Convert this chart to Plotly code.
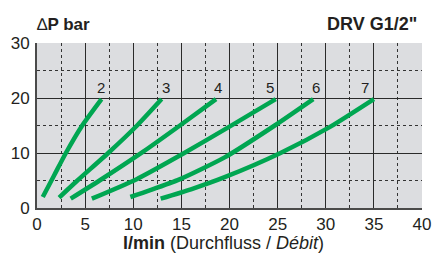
import plotly.graph_objects as go

# ---- data ----
curve_names = ["2", "3", "4", "5", "6", "7"]
flow_2 = [0.6, 1.8, 3.0, 4.7, 6.7]
dp_2 = [2.0, 6.0, 10.0, 15.0, 19.8]
flow_3 = [2.3, 4.2, 7.4, 10.4, 12.95]
dp_3 = [1.9, 5.0, 10.0, 15.0, 19.8]
flow_4 = [3.5, 6.5, 11.0, 14.85, 18.6]
dp_4 = [1.7, 5.0, 10.2, 15.0, 19.8]
flow_5 = [5.7, 10.3, 15.3, 20.0, 24.8]
dp_5 = [1.7, 5.2, 10.0, 14.8, 19.8]
flow_6 = [9.7, 11.7, 14.8, 19.5, 24.7, 28.7]
dp_6 = [2.0, 3.2, 5.2, 9.2, 15.0, 19.8]
flow_7 = [12.85, 16.0, 19.5, 25.3, 30.4, 35.0]
dp_7 = [1.7, 3.4, 5.6, 10.0, 14.7, 19.8]

x_ticks = [0, 5, 10, 15, 20, 25, 30, 35, 40]
y_ticks = [0, 10, 20, 30]

series = [
    (flow_2, dp_2), (flow_3, dp_3), (flow_4, dp_4),
    (flow_5, dp_5), (flow_6, dp_6), (flow_7, dp_7),
]

# ---- styling ----
GREEN = "#00a651"
FONT = "Liberation Sans, Arial, sans-serif"
TXT = "#231f20"
label_xshift = [0, 4, 2, -6, 3, -9]

fig = go.Figure()
annotations = []
for name, (xs, ys), dx in zip(curve_names, series, label_xshift):
    fig.add_trace(go.Scatter(
        x=xs, y=ys, mode="lines", name=name,
        line=dict(color=GREEN, width=4.5, shape="spline", smoothing=0.6),
        showlegend=False, hoverinfo="skip",
    ))
    annotations.append(dict(
        x=xs[-1], y=ys[-1], xref="x", yref="y", text=name, showarrow=False,
        xanchor="center", yanchor="bottom", xshift=dx, yshift=1,
        font=dict(family=FONT, size=15, color=TXT),
    ))

annotations += [
    dict(x=0, y=1, xref="paper", yref="paper", text="∆<b>P bar</b>",
         showarrow=False, xanchor="left", yanchor="middle", xshift=-2, yshift=19,
         font=dict(family=FONT, size=17, color=TXT)),
    dict(x=1, y=1, xref="paper", yref="paper", text="<b>DRV G1/2\"</b>",
         showarrow=False, xanchor="right", yanchor="middle", xshift=-3, yshift=19,
         font=dict(family=FONT, size=18, color=TXT)),
    dict(x=0.5, y=0, xref="paper", yref="paper",
         text="<b>l/min</b> (Durchfluss / <i>Débit</i>)",
         showarrow=False, xanchor="center", yanchor="middle", xshift=-6, yshift=-35,
         font=dict(family=FONT, size=18, color=TXT)),
]

axis_common = dict(
    showgrid=True, gridcolor="#2a2a2a", gridwidth=1.2,
    showline=True, linecolor="#4a4a4a", linewidth=2,
    ticks="", zeroline=False, automargin=False,
    tickfont=dict(family=FONT, size=17, color=TXT),
)

fig.update_layout(
    width=433, height=257,
    margin=dict(l=37, r=11, t=43, b=49),
    paper_bgcolor="white", plot_bgcolor="#dcdde0",
    xaxis=dict(range=[0, 40], tickvals=x_ticks,
               minor=dict(dtick=2.5, tick0=0, showgrid=True, gridcolor="#333333",
                          gridwidth=1, griddash="dot"),
               **axis_common),
    yaxis=dict(range=[0, 30], tickvals=y_ticks,
               minor=dict(dtick=5, tick0=0, showgrid=True, gridcolor="#333333",
                          gridwidth=1, griddash="dot"),
               ticklabelstandoff=2,
               **axis_common),
    annotations=annotations,
)

fig.write_html(
    "out.html",
    config={"displayModeBar": False},
    post_script="document.body.style.margin='0px';document.body.style.overflow='hidden';",
)
